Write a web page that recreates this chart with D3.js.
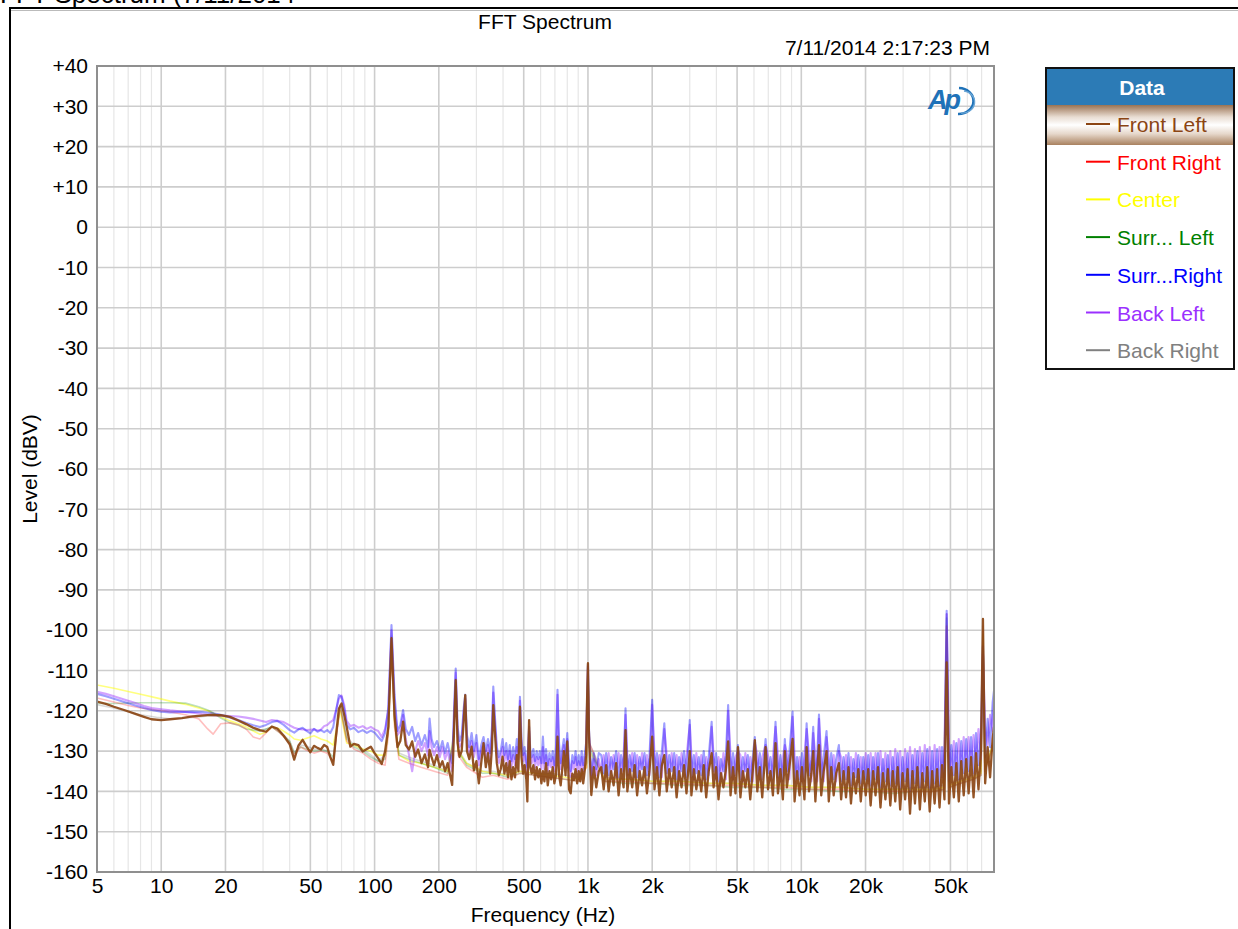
<!DOCTYPE html>
<html><head><meta charset="utf-8">
<script src="https://cdn.jsdelivr.net/npm/d3@7"></script>
<style>body{margin:0;background:#fff}svg{display:block}text{font-family:"Liberation Sans",Arial,sans-serif}</style>
</head><body><svg id="c" width="1238" height="929"></svg>
<script>
// ---------- DATA ----------
const freqFine = [
5,5.5,6,6.7,7.5,8.3,9,10,11,12.5,
14,15.5,17,19,21,23,25,27,29,31,
33,35,37.5,40,42,44,46,48,50,52,
54,56,58,60,62,64,66,68,70,72,
74,77,80,84,88,92,96,100,104,108,
112,116,120,124,128,132,136,140,145,150,
155,160,166,172,178,181,185,190,196,202,
208,214,220,226,231,236,240,245,250,256,
262,266,271,278,285,292,300,308,316,324,
332,340,348,355,360,366,374,382,390,398,
406,414,422,430,438,446,455,464,472,480,
488,496,505,514,520,525,530,537,545,555,
565,575,585,595,605,615,625,636,648,660,
672,684,696,708,720,732,745,758,771,785,
800,815,830,845,860,875,890,905,920,935,
950,965,980,990,1000,1010,1037,1065,1094,1124,
1154,1185,1217,1250,1284,1319,1355,1392,1430,1469,
1500,1530,1570,1612,1655,1700,1746,1793,1841,1890,
1941,2000,2050,2105,2162,2220,2280,2341,2404,2469,
2536,2604,2674,2746,2820,2896,3000,3054,3136,3221,
3308,3397,3489,3583,3680,3800,3880,3985,4092,4202,
4315,4431,4540,4660,4786,4915,5047,5183,5323,5466,
5613,5764,5919,6055,6220,6388,6560,6800,6980,7168,
7361,7570,7770,7979,8194,8370,8560,8790,9100,9300,
9550,9807,10071,10342,10590,10870,11150,11370,11640,11880,
12100,12400,12730,13130,13450,13810,14180,14560,15000,15370,
15780,16200,16640,17090,17550,18020,18500,19000,19510,20040,
20580,21130,21700,22280,22880,23500,24130,24780,25450,26130,
26840,27560,28300,29060,29840,30650,31470,32320,33190,34080,
35000,35940,36910,37900,38920,39970,41050,42150,43290,44450,
45650,46880,48000,49200,50500,51870,53270,54700,56170,57690,
59240,60830,62470,64160,65880,67660,69480,71000,72700,74700,
76700,78800,80000];

const frontLeft = [
-117.7,-118.3,-119,-119.8,-120.7,-121.5,-122.1,-122.3,-122.1,-121.8,
-121.4,-121.2,-121,-121.1,-121.5,-122.4,-123.3,-124.2,-124.8,-125.2,
-123.9,-124.4,-126.2,-128.3,-132.1,-128.6,-127.2,-128.9,-130.3,-128.7,
-129.2,-129.6,-128.5,-129,-131.5,-133.4,-126,-119.5,-118.2,-121,
-124,-128.9,-128.2,-128.5,-130.1,-129.5,-128.9,-130.5,-131.8,-133.2,
-130,-124,-102,-121,-129,-127.5,-122.7,-128.5,-129.6,-127.6,
-131.4,-129.6,-133,-130.8,-134,-129.7,-131.5,-133.5,-131,-134,
-132.5,-135,-133,-136,-138.4,-124,-112.4,-128,-131.4,-130,
-122,-116.1,-130,-132,-128.9,-134.8,-132.5,-138,-133,-128,
-134,-130.5,-135.6,-129,-118.6,-125,-133,-136,-134.5,-131.4,
-135.6,-133,-136.5,-132.5,-137,-134,-136.5,-131,-135,-119,
-131.4,-135.6,-133.5,-137,-142.5,-131,-122.3,-134,-135.6,-133.5,
-137,-134,-136.5,-134.5,-138,-135,-137.5,-133,-138.5,-135,
-137,-134,-138,-136,-126.4,-136,-138.5,-134.5,-130,-136,
-127.6,-139.5,-140.5,-135.6,-137.2,-134.5,-138,-135,-137.5,-134.5,
-138,-135,-131,-118,-108.2,-125,-140.9,-134,-139,-135,
-134,-139.5,-133.5,-140,-135,-138.5,-133,-141,-134.5,-139,
-124.8,-140,-134.5,-139,-133.5,-141,-135,-138.5,-134,-140.5,
-135,-126.4,-139.5,-134,-141,-133.5,-131,-140,-134.5,-139,
-134,-141.5,-135,-139,-133.5,-140.5,-130,-141,-134.5,-139.5,
-135,-140,-133.5,-141.5,-135,-130.5,-139,-134,-142,-135.5,
-139,-134.5,-127.6,-141,-134,-140.5,-129,-141.5,-135,-139,
-134.5,-142,-135,-127.3,-140,-134,-141.5,-129,-139.5,-135,
-141,-128,-140.5,-134.5,-142,-130,-139,-134,-127,-142.5,
-135,-141,-134,-142,-129,-140,-135.5,-130,-142.5,-134.5,
-128.5,-141,-135,-130,-142.5,-134,-141,-135.5,-133,-142,
-135,-141.5,-134,-143,-135.5,-140.5,-134.5,-142.5,-135,-141,
-134.5,-143.5,-135,-141,-134,-144,-135.5,-142,-134.5,-143.5,
-135,-142.5,-134,-144.5,-135.5,-142,-134.5,-145.5,-135,-143,
-134,-144.5,-135.5,-142.5,-134,-145,-135,-143,-134.5,-144,
-133.5,-142,-108,-143,-134,-141.5,-133,-142.5,-132.5,-141,
-132,-140.5,-131.5,-141.5,-130.5,-139.5,-130,-97.2,-138,-129,
-136.5,-127,-124];

const surrRight = [
-115.8,-116.4,-117,-117.8,-118.6,-119.3,-119.8,-120.2,-120.4,-120.3,
-120.2,-120.3,-120.5,-121,-121.6,-122.3,-123,-123.6,-124,-123.5,
-122.8,-122.5,-123.5,-124.8,-125.4,-124.6,-124.2,-125,-125.6,-124.5,
-125.2,-124.8,-125.3,-124.8,-125.5,-124,-120,-116.1,-116.5,-119.5,
-123.5,-124.6,-124.2,-125.3,-124.8,-125.5,-124.9,-125.4,-126.5,-127.5,
-125.5,-119,-98.7,-116,-125,-123.5,-119.8,-124.5,-126,-124,
-127.5,-125.5,-128.5,-126,-129,-121.9,-127,-129,-127.5,-130,
-127.5,-130.5,-128,-131,-133,-119,-109.5,-124,-127.5,-126,
-119,-116,-126,-129,-125.5,-130,-126,-132,-128.5,-126.5,
-130,-127,-130.5,-124,-114,-121,-129,-131.5,-130,-127,
-131,-128,-132,-128.5,-132.5,-129,-132,-127,-130.5,-116.5,
-127,-131,-129,-132.5,-134,-128,-124,-130,-131.5,-129.5,
-132.5,-130,-132,-130,-133,-126.4,-133,-129.5,-133.5,-130.5,
-132.5,-130,-133.5,-129,-114.8,-128,-133,-129.5,-127,-131,
-125.5,-133,-135,-131,-133,-130,-133.5,-131,-133.5,-130,
-133.5,-131,-128,-118,-108.5,-124,-136,-130.5,-134.5,-130.5,
-131,-135.5,-130.5,-136,-131.5,-134.5,-130,-136.5,-131,-135,
-119.4,-136,-131,-135,-130.5,-136.5,-131.5,-134.5,-130.5,-136,
-131.5,-117.3,-135.5,-130.5,-136.5,-130,-123.1,-135.5,-131,-135,
-130.5,-137,-131.5,-135,-130,-136.5,-122.3,-136.5,-131,-135.5,
-131.5,-136,-130,-137,-131.5,-122.7,-135,-130.5,-137.5,-132,
-135,-131,-118.6,-136.5,-130.5,-136,-128.5,-137,-131.5,-135,
-131,-137.5,-131.5,-126.5,-136,-130.5,-137,-127,-135.5,-131.5,
-137,-122.7,-136.5,-131,-137.5,-127,-135,-130.5,-120.2,-138,
-131.5,-137,-130.5,-137.5,-123.1,-136,-132,-124,-138,-131,
-120.9,-137,-131.5,-125,-138,-130.5,-137,-132,-128.5,-137.5,
-131.5,-137,-130.5,-138.5,-132,-136.5,-131,-138,-131.5,-137,
-131,-138.5,-131.5,-137,-130.5,-139,-132,-137.5,-131,-138.5,
-131.5,-138,-130.5,-139.5,-131.5,-137.5,-130.5,-140,-131,-138,
-130,-139,-130.5,-137.5,-129.5,-139.5,-130,-138,-129.5,-138.5,
-129,-137,-95.2,-137.5,-128.5,-136,-128,-137,-127.5,-135.5,
-127,-135,-126.5,-135.5,-125.5,-133.5,-125,-104,-131.5,-122,
-129,-118,-115];

const backLeft = [
-115.3,-115.8,-116.4,-117.2,-118,-118.8,-119.3,-119.6,-119.9,-120.2,
-120.5,-120.8,-121,-121.2,-121.3,-121.4,-121.7,-122,-122.4,-122.8,
-122.3,-122.5,-122.8,-123.6,-124.2,-124.5,-124.6,-124.8,-124.7,-124.6,
-124.9,-124.7,-123.8,-123.5,-122.8,-122.3,-119.8,-117,-116.2,-118.5,
-122.5,-123.8,-123.5,-124.2,-123.8,-124.5,-124,-124.6,-125,-126.5,
-124.5,-120,-100,-118,-126,-125,-121,-127,-131,-135,
-130,-127.5,-130,-128,-131,-125,-129,-131,-129,-131.5,
-129,-132,-130,-133,-135,-121,-110.5,-126,-129,-128,
-120,-117,-128,-130.5,-127.5,-131.5,-128,-133.5,-130,-128,
-131.5,-128.5,-132,-126,-115.5,-123,-130.5,-133,-131.5,-129,
-132.5,-130,-133.5,-130,-134,-131,-133.5,-129,-132,-117.5,
-129,-132.5,-130.5,-134,-136,-129.5,-125,-131.5,-133,-131,
-134,-131.5,-133.5,-131.5,-134.5,-129,-134.5,-131,-135,-132,
-134,-131.5,-135,-131,-116,-130,-134.5,-131,-128.5,-132.5,
-127,-134.5,-136.5,-132.5,-134.5,-131.5,-135,-132.5,-135,-131.5,
-135,-132.5,-129.5,-119,-109,-126,-137,-132,-136,-132,
-135,-131,-136,-130.5,-135.5,-131,-136.5,-130.5,-135.5,-131,
-121,-131.5,-136,-130.5,-136.5,-131,-135.5,-130.5,-136,-131,
-136,-118.5,-130.5,-136,-131,-136.5,-124.5,-131,-136.5,-130.5,
-136,-131,-137,-130.5,-136,-131.5,-123.5,-131,-137,-130.5,
-136.5,-131,-137,-131.5,-136,-124,-131,-137,-131.5,-137,
-130.5,-137,-120,-131,-137,-131.5,-130,-131,-137.5,-130.5,
-136.5,-131.5,-137.5,-128,-131,-137,-131.5,-128.5,-131,-137,
-131.5,-124,-131,-137.5,-131.5,-128.5,-130.5,-137,-121.5,-131,
-137,-131.5,-137.5,-131,-124.5,-131,-137.5,-125.5,-131,-137.5,
-122,-131,-137.5,-126.5,-131.5,-137,-131,-137.5,-130,-131.5,
-137,-131,-137.5,-131.5,-137,-130.5,-137.5,-131.5,-137,-130.5,
-137.5,-130.5,-137,-130.5,-138,-130,-137.5,-130.5,-138,-130,
-137.5,-129.5,-138,-130,-138.5,-129.5,-138,-129,-138,-129.5,
-138,-129,-138.5,-128.5,-138,-129,-138.5,-128.5,-137.5,-129,
-136.5,-128.5,-96,-128,-136,-127.5,-135.5,-127,-134.5,-126.5,
-134,-126.5,-133.5,-126,-132.5,-124.5,-132,-106,-124,-128.5,
-121,-125,-117.3];

const freqCoarse = [
5,6,7,8,9.5,11,13,15,16.5,17.5,
19,21,23,25,27,29,31,33,36,40,
42,45,48,52,56,60,64,69,74,80,
88,96,104,112,116,120,124,130,145,165,
190,220,234,240,246,270,320,360,420,480,
560,660,780,900,985,1000,1015,1200,1500,2000,
2700,3600,4800,6500,8500,11000,15000,20000,27000,35000,
42000,46500,48000,49500,56000,64000,69500,71000,72500,80000];

const frontRight = [
-116.8,-117.8,-118.7,-119.3,-119.8,-120.3,-121,-122,-124.5,-125.8,
-123.2,-123,-123.5,-124.5,-126.5,-127,-125.5,-124,-125.5,-128,
-131,-129,-129.8,-130.5,-130,-130.5,-132.5,-119,-127.5,-129.5,
-130.5,-132,-133,-133.5,-126,-104,-124,-132,-133,-134,
-135,-136,-128,-114,-131,-134,-136.5,-136,-137,-135.5,
-136,-136.5,-137,-137.5,-134,-110.7,-128,-137.5,-137.5,-138,
-138,-138.5,-138.5,-139,-139,-139.5,-139.5,-140,-140,-140,
-140,-139.5,-99,-139,-138,-137,-136,-100,-135,-128];

const center = [
-113.6,-114.4,-115.2,-115.9,-116.8,-117.6,-118.4,-119.3,-120,-120.6,
-121.5,-122.5,-123.2,-124,-125,-125.8,-125.3,-124,-124.5,-126,
-127,-127.3,-126.8,-126.2,-127,-127.5,-128.5,-120,-128,-128.5,
-129.5,-130,-131,-131,-125,-103,-123,-131,-132.5,-133,
-134,-135,-127,-113,-130,-133,-135,-135.5,-136,-135,
-135.5,-136,-136.5,-137,-134,-110,-130,-137,-137,-137.5,
-137.5,-138,-138,-138.5,-138.5,-139,-139,-139.5,-139.5,-139.5,
-139.5,-139,-99,-138.5,-137.5,-136.5,-135.5,-101,-134.5,-127.5];

const surrLeft = [
-118.2,-118.2,-118.1,-118,-118,-118,-118.1,-119,-119.8,-120.5,
-121.8,-123,-123.6,-124.5,-124.8,-125,-124.5,-124,-125.5,-127.5,
-130.5,-129,-129.5,-130,-129.8,-130,-131.5,-118.8,-127,-129,
-130,-131.5,-132.5,-132,-125,-102.5,-122.5,-131,-132,-133,
-134,-135.5,-127.5,-113,-130,-133.5,-135.5,-135.5,-136.5,-135.5,
-136,-136.5,-137,-137.5,-133,-109,-129,-137.5,-138,-138,
-138.5,-138.5,-139,-139,-139.5,-139.5,-140,-140,-140.5,-140,
-140,-139.5,-97,-139,-138,-137,-136,-101,-135,-128];

const backRight = [
-118.5,-119.3,-120.2,-121,-121.6,-122,-121.8,-121.5,-121.3,-121.2,
-121.3,-121.8,-122.6,-123.5,-124.4,-125,-124.5,-124,-125,-127.5,
-130.5,-128.5,-128.8,-129.5,-129.5,-130,-132.5,-118.5,-126.5,-128.5,
-129.5,-131,-132.5,-131,-124.5,-101.5,-122,-130.5,-131.5,-132.5,
-133.5,-135,-126.5,-112,-129.5,-133,-135,-135,-136,-135,
-135.5,-135.5,-136,-136.5,-133,-108.5,-128,-136.5,-137,-137.5,
-137.5,-138,-138,-138.5,-138.5,-139,-139,-139.5,-139.5,-139,
-139,-138.5,-96,-138,-137,-136,-135,-99,-134,-127];

const seriesNames = ["Front Left","Front Right","Center","Surr... Left","Surr...Right","Back Left","Back Right"];
const seriesColors = ["#8B4513","#FF0000","#FFFF00","#008000","#0000FF","#9B30FF","#808080"];
const yTickValues = [40,30,20,10,0,-10,-20,-30,-40,-50,-60,-70,-80,-90,-100,-110,-120,-130,-140,-150,-160];
const xTickValues = [5,10,20,50,100,200,500,1000,2000,5000,10000,20000,50000];
const xTickLabels = ["5","10","20","50","100","200","500","1k","2k","5k","10k","20k","50k"];
const xMinorValues = [6,7,8,9,30,40,60,70,80,90,300,400,600,700,800,900,3000,4000,6000,7000,8000,9000,30000,40000,60000,70000];

// ---------- DRAW ----------
const svg = d3.select("#c");
const L = 97, R = 994, T = 66, B = 872;
const x = d3.scaleLog().domain([5, 80000]).range([L, R]);
const y = d3.scaleLinear().domain([-160, 40]).range([B, T]);

// window frame and cut-off caption
svg.append("text").attr("x", 0).attr("y", 3).attr("font-size", 26).attr("fill", "#000").text("FFT Spectrum (7/11/2014");
svg.append("line").attr("x1", 10).attr("x2", 1238).attr("y1", 8).attr("y2", 8).attr("stroke", "#000").attr("stroke-width", 2);
svg.append("line").attr("x1", 10).attr("x2", 1238).attr("y1", 10.5).attr("y2", 10.5).attr("stroke", "#bbb").attr("stroke-width", 1);
svg.append("line").attr("x1", 10).attr("x2", 10).attr("y1", 7).attr("y2", 929).attr("stroke", "#000").attr("stroke-width", 2);

// titles
svg.append("text").attr("x", 545).attr("y", 29).attr("text-anchor", "middle").attr("font-size", 21).text("FFT Spectrum");
svg.append("text").attr("x", 990).attr("y", 55).attr("text-anchor", "end").attr("font-size", 21).text("7/11/2014 2:17:23 PM");

// grid
const grid = svg.append("g");
grid.selectAll(".vmin").data(xMinorValues).join("line")
  .attr("x1", d => x(d)).attr("x2", d => x(d)).attr("y1", T).attr("y2", B)
  .attr("stroke", "#e6e6e6").attr("stroke-width", 1.2);
grid.selectAll(".vmaj").data(xTickValues.slice(1)).join("line")
  .attr("x1", d => x(d)).attr("x2", d => x(d)).attr("y1", T).attr("y2", B)
  .attr("stroke", "#cdcdcd").attr("stroke-width", 1.6);
grid.selectAll(".h").data(yTickValues).join("line")
  .attr("x1", L).attr("x2", R).attr("y1", d => y(d)).attr("y2", d => y(d))
  .attr("stroke", "#cdcdcd").attr("stroke-width", 1.6);

// AP logo
const ap = svg.append("g").attr("transform", "translate(928,86)");
ap.append("text").attr("x", 0).attr("y", 23).attr("font-size", 27).attr("font-weight", "bold")
  .attr("font-style", "italic").attr("fill", "#1f72b8").attr("letter-spacing", -3).text("Ap");
ap.append("path").attr("d", "M31,2 A15,13 0 0 1 30,28").attr("fill", "none").attr("stroke", "#1f72b8").attr("stroke-width", 2.6);
ap.append("path").attr("d", "M36,5 A12,11 0 0 1 33,27").attr("fill", "none").attr("stroke", "#6aa6d6").attr("stroke-width", 1.4);

// traces
svg.append("clipPath").attr("id", "clip").append("rect").attr("x", L).attr("y", T).attr("width", R - L).attr("height", B - T);
const plot = svg.append("g").attr("clip-path", "url(#clip)");
const line = d3.line().x(d => x(d[0])).y(d => y(d[1]));
const zip = (fr, lv) => fr.map((f, i) => [f, lv[i]]);
const traces = [
  {f: freqCoarse, v: backRight,  c: seriesColors[6], o: 0.3,  w: 1.6},
  {f: freqCoarse, v: center,     c: seriesColors[2], o: 0.5,  w: 1.6},
  {f: freqCoarse, v: surrLeft,   c: seriesColors[3], o: 0.25, w: 1.6},
  {f: freqCoarse, v: frontRight, c: seriesColors[1], o: 0.25, w: 1.6},
  {f: freqFine,   v: backLeft,   c: seriesColors[5], o: 0.45, w: 2.1},
  {f: freqFine,   v: surrRight,  c: seriesColors[4], o: 0.38, w: 2.1},
  {f: freqFine,   v: frontLeft,  c: seriesColors[0], o: 0.92, w: 2.3}
];
traces.forEach(t => {
  plot.append("path").datum(zip(t.f, t.v)).attr("d", line)
    .attr("fill", "none").attr("stroke", t.c).attr("stroke-opacity", t.o)
    .attr("stroke-width", t.w).attr("stroke-linejoin", "round");
});

// plot border
svg.append("rect").attr("x", L).attr("y", T).attr("width", R - L).attr("height", B - T)
  .attr("fill", "none").attr("stroke", "#8f8f8f").attr("stroke-width", 2);

// axes
const yAxis = d3.axisLeft(y).tickValues(yTickValues).tickSize(0).tickPadding(9)
  .tickFormat(d => d > 0 ? "+" + d : String(d));
const gy = svg.append("g").attr("transform", `translate(${L},0)`).call(yAxis);
const xAxis = d3.axisBottom(x).tickValues(xTickValues).tickSize(0).tickPadding(6)
  .tickFormat((d, i) => xTickLabels[i]);
const gx = svg.append("g").attr("transform", `translate(0,${B})`).call(xAxis);
[gx, gy].forEach(g => {
  g.select(".domain").remove();
  g.selectAll("text").attr("font-size", 21).attr("fill", "#000").attr("font-family", '"Liberation Sans",Arial,sans-serif');
});

svg.append("text").attr("x", 543).attr("y", 922).attr("text-anchor", "middle").attr("font-size", 21).text("Frequency (Hz)");
svg.append("text").attr("transform", "translate(37,469) rotate(-90)").attr("text-anchor", "middle").attr("font-size", 21).text("Level (dBV)");

// legend
const defs = svg.append("defs");
const gr = defs.append("linearGradient").attr("id", "sel").attr("x1", 0).attr("x2", 0).attr("y1", 0).attr("y2", 1);
[[0, "#9a7353"], [0.3, "#e9ddd2"], [0.5, "#ffffff"], [0.72, "#e6d8cb"], [1, "#a9815f"]]
  .forEach(s => gr.append("stop").attr("offset", s[0]).attr("stop-color", s[1]));
const lg = svg.append("g");
lg.append("rect").attr("x", 1046).attr("y", 68).attr("width", 188).attr("height", 301).attr("fill", "#fff").attr("stroke", "#111").attr("stroke-width", 2);
lg.append("rect").attr("x", 1047).attr("y", 69).attr("width", 186).attr("height", 36).attr("fill", "#2c7bb6");
lg.append("text").attr("x", 1142).attr("y", 95).attr("text-anchor", "middle").attr("font-size", 21).attr("font-weight", "bold").attr("fill", "#fff").text("Data");
lg.append("rect").attr("x", 1047).attr("y", 105).attr("width", 186).attr("height", 40).attr("fill", "url(#sel)");
const rows = lg.selectAll(".row").data(seriesNames).join("g")
  .attr("transform", (d, i) => `translate(0,${124 + i * 37.7})`);
rows.append("line").attr("x1", 1086).attr("x2", 1110).attr("y1", 0).attr("y2", 0)
  .attr("stroke", (d, i) => seriesColors[i]).attr("stroke-width", 2);
rows.append("text").attr("x", 1117).attr("y", 8).attr("font-size", 21)
  .attr("fill", (d, i) => seriesColors[i]).text(d => d);
</script></body></html>
